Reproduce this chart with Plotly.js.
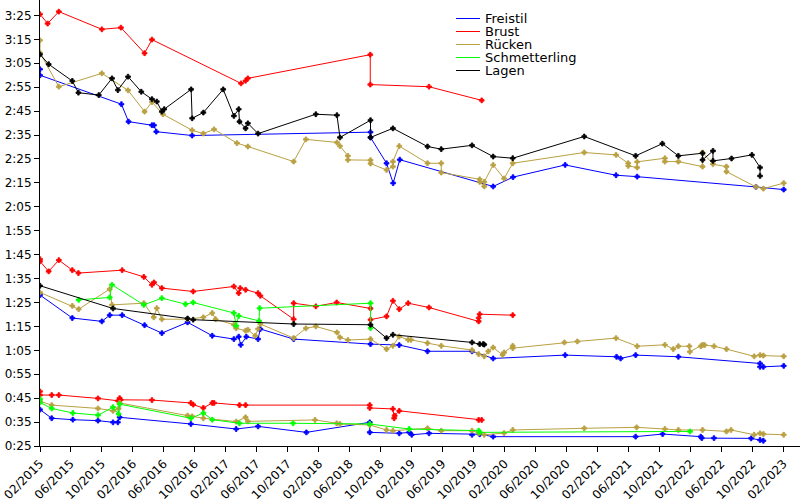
<!DOCTYPE html>
<html>
<head>
<meta charset="utf-8">
<script src="https://cdn.plot.ly/plotly-3.0.1.min.js"></script>
<style>html,body{margin:0;padding:0;background:#fff;}#chart{width:800px;height:500px;}</style>
</head>
<body>
<div id="chart"></div>
<script>
// ---------- DATA (times in seconds) ----------
const seriesNames = ['Freistil', 'Brust', 'Rücken', 'Schmetterling', 'Lagen'];
const seriesColors = ['#0000ff', '#ff0000', '#b9a040', '#00ff00', '#000000'];

const yTickValues = [25, 35, 45, 55, 65, 75, 85, 95, 105, 115, 125, 135, 145, 155, 165, 175, 185, 195, 205];
const yTickLabels = ['0:25', '0:35', '0:45', '0:55', '1:05', '1:15', '1:25', '1:35', '1:45', '1:55', '2:05', '2:15', '2:25', '2:35', '2:45', '2:55', '3:05', '3:15', '3:25'];

// Freistil
const freistil200Dates = ['2015-02-01','2015-02-01','2015-12-18','2016-01-15','2016-04-16','2016-04-24','2016-05-03','2016-09-21','2018-08-23','2018-08-23','2018-10-25','2018-11-20','2018-12-16','2019-12-18','2020-03-05','2020-09-26','2021-04-14','2021-07-06','2022-10-16','2023-02-02'];
const freistil200Times = [182.5,180.0,167.9,160.6,159.1,159.1,156.4,154.8,156.2,154.0,143.2,134.9,144.7,133.5,137.4,142.5,138.2,137.6,133.3,132.2];
const freistil100Dates = ['2015-02-01','2015-06-08','2015-10-02','2015-11-02','2015-12-21','2016-03-18','2016-05-25','2016-09-03','2016-12-09','2017-03-04','2017-03-23','2017-03-31','2017-04-22','2017-06-07','2017-06-16','2017-10-25','2018-08-23','2018-12-14','2019-04-04','2019-09-26','2019-12-18','2020-09-26','2021-04-16','2021-05-02','2021-06-30','2021-12-15','2022-11-01','2022-11-01','2022-11-14','2023-02-02'];
const freistil100Times = [88.1,78.5,77.1,79.7,79.7,75.5,72.2,76.7,71.1,69.7,70.7,67.3,70.7,69.7,73.9,69.7,67.6,67.2,64.6,64.6,61.6,63.0,62.3,61.6,63.0,62.3,59.5,58.1,58.1,58.5];
const freistil50Dates = ['2015-02-01','2015-03-19','2015-06-10','2015-09-17','2015-11-15','2015-12-04','2015-12-11','2016-09-16','2017-03-13','2017-06-07','2017-12-14','2018-08-20','2018-08-20','2018-12-14','2019-01-22','2019-02-01','2019-04-10','2019-09-26','2019-10-26','2019-12-18','2021-06-30','2021-10-14','2022-03-13','2022-03-17','2022-05-04','2022-09-27','2022-11-01','2022-11-14'];
const freistil50Times = [40.2,36.6,36.0,35.6,34.9,34.9,37.0,34.2,32.1,33.2,30.7,34.9,30.7,30.3,30.7,29.7,30.3,29.7,29.9,28.9,28.9,30.0,28.9,28.3,28.3,28.2,27.5,27.2];

// Brust
const brust200Dates = ['2015-02-01','2015-03-03','2015-04-16','2015-10-02','2015-12-16','2016-03-18','2016-04-16','2017-04-01','2017-04-19','2017-04-28','2018-08-22','2018-08-22','2019-04-10','2019-11-03'];
const brust200Times = [205.5,201.6,206.6,199.2,199.9,189.2,194.9,176.6,177.7,178.7,188.6,176.1,175.2,169.5];
const brust100Dates = ['2015-02-01','2015-02-01','2015-03-07','2015-04-16','2015-06-08','2015-07-02','2015-12-21','2016-03-15','2016-04-16','2016-04-24','2016-05-25','2016-09-25','2017-03-04','2017-03-23','2017-03-29','2017-04-19','2017-06-07','2017-06-16','2017-10-25','2017-10-25','2018-01-20','2018-04-12','2018-08-23','2018-08-23','2018-10-25','2018-11-19','2018-12-14','2019-01-18','2019-04-10','2019-10-22','2019-10-22','2019-10-26','2020-03-04'];
const brust100Times = [103.1,102.2,98.0,102.7,98.5,97.3,98.5,95.7,92.4,93.4,91.0,89.6,91.7,88.9,91.0,90.3,88.9,87.8,78.0,84.7,83.4,85.0,82.5,77.8,79.2,85.7,82.2,84.7,82.9,77.1,78.5,80.1,79.7];
const brust50Dates = ['2015-02-01','2015-02-01','2015-03-19','2015-04-16','2015-09-17','2015-12-04','2015-12-11','2015-12-15','2016-04-16','2016-09-16','2016-09-25','2016-11-04','2016-12-09','2016-12-16','2017-03-26','2017-04-19','2018-08-20','2018-08-20','2018-11-19','2018-11-24','2018-11-26','2018-12-14','2019-10-22','2019-11-03'];
const brust50Times = [47.8,46.3,46.3,46.3,44.9,43.9,45.0,44.3,44.2,43.0,42.3,40.9,43.0,43.0,42.1,42.1,42.1,40.9,40.5,36.6,37.7,39.7,35.9,35.9];

// Rücken
const ruecken200Dates = ['2015-02-01','2015-02-01','2015-04-16','2015-10-02','2016-01-13','2016-03-18','2016-04-16','2016-05-29','2016-09-21','2016-11-04','2016-12-16','2017-03-16','2017-04-28','2017-10-25','2017-12-12','2018-04-13','2018-04-25','2018-05-26','2018-05-26','2018-08-23','2018-08-23','2018-10-25','2018-11-19','2018-11-19','2018-12-14','2019-04-04','2019-05-28','2019-05-28','2019-10-26','2019-10-26','2019-11-13','2019-11-13','2019-12-18','2020-01-30','2020-03-04','2020-12-10','2021-04-14','2021-06-01','2021-06-01','2021-07-06','2021-07-06','2021-10-23','2021-10-23','2021-12-15','2022-03-20','2022-03-20','2022-04-30','2022-06-22','2022-06-22','2022-10-16','2022-11-14','2023-02-02'];
const ruecken200Times = [194.6,189.4,175.2,180.8,173.7,164.8,168.8,163.7,157.0,155.6,157.4,151.6,150.2,143.9,153.2,151.9,150.4,146.3,144.6,144.5,143.1,140.4,141.8,143.9,150.4,143.2,143.2,139.3,136.5,135.4,133.5,135.4,142.5,136.8,143.2,147.7,146.7,143.2,142.1,141.4,143.8,145.3,143.9,143.9,141.8,147.7,142.8,141.8,139.7,133.3,132.6,134.9];
const ruecken100Dates = ['2015-02-01','2015-06-08','2015-07-03','2015-11-02','2015-11-11','2016-03-15','2016-04-23','2016-05-05','2016-05-25','2016-09-03','2016-11-04','2016-12-09','2016-12-22','2017-03-04','2017-03-13','2017-04-19','2017-04-28','2017-05-27','2017-06-07','2017-06-16','2017-10-25','2017-12-12','2018-01-20','2018-04-13','2018-04-25','2018-05-26','2018-08-23','2018-10-25','2018-11-19','2018-12-14','2019-01-18','2019-01-29','2019-04-04','2019-05-28','2019-09-26','2019-10-22','2019-11-13','2019-11-29','2019-12-18','2020-01-24','2020-01-30','2020-03-04','2020-03-04','2020-09-23','2020-11-13','2021-04-14','2021-07-06','2021-10-23','2021-11-25','2021-12-15','2022-01-27','2022-01-29','2022-03-13','2022-03-20','2022-03-28','2022-05-04','2022-06-22','2022-10-09','2022-11-01','2022-11-14','2023-02-02'];
const ruecken100Times = [89.2,83.6,82.2,90.6,84.0,84.7,78.8,82.6,78.0,78.0,78.8,80.6,78.0,75.7,74.2,73.2,73.6,71.1,73.9,76.0,70.1,74.2,75.0,72.5,70.4,69.3,69.7,65.5,66.9,70.8,69.4,69.4,68.0,66.9,65.1,63.4,62.5,64.6,66.2,63.1,64.1,66.9,65.9,68.3,68.7,70.1,66.7,67.3,65.5,66.7,66.7,64.4,66.7,67.3,67.2,66.7,65.5,62.5,63.0,62.8,62.5];
const ruecken50Dates = ['2015-02-01','2015-03-19','2015-09-17','2015-11-15','2015-12-07','2015-12-11','2016-09-03','2016-09-21','2016-11-04','2017-03-13','2017-04-19','2017-04-28','2018-01-17','2018-04-12','2018-04-25','2018-08-20','2018-10-25','2018-11-19','2019-04-04','2019-05-28','2019-09-26','2019-10-22','2019-11-13','2020-01-30','2020-03-04','2020-12-10','2021-07-04','2021-10-23','2021-12-15','2022-03-20','2022-06-22','2022-07-10','2022-10-09','2022-11-01','2022-11-14','2023-02-02'];
const ruecken50Times = [43.7,42.1,40.7,39.7,40.7,43.0,37.7,37.4,36.6,35.2,37.0,35.3,35.9,34.5,34.2,33.8,31.7,31.4,32.4,31.4,31.4,30.4,29.7,30.4,31.7,32.4,32.8,32.1,31.7,31.7,31.1,31.7,29.7,30.3,30.0,29.7];

// Schmetterling
const schmetterling100Dates = ['2015-07-03','2015-11-02','2015-11-11','2016-03-15','2016-05-25','2016-08-26','2016-09-25','2017-03-04','2017-03-13','2017-03-23','2017-06-11','2017-06-13','2018-08-23','2018-08-23'];
const schmetterling100Times = [86.1,87.1,92.4,84.0,86.8,84.3,85.0,80.6,75.3,79.4,77.3,82.6,84.7,74.3];
const schmetterling50Dates = ['2015-02-01','2015-02-01','2015-03-19','2015-06-10','2015-09-17','2015-11-15','2015-12-07','2015-12-11','2016-09-16','2016-11-04','2016-12-09','2017-03-26','2017-10-23','2018-08-20','2019-01-22','2019-10-22','2019-10-26','2022-01-30'];
const schmetterling50Times = [44.6,43.2,40.7,38.8,37.9,41.2,38.4,42.5,36.6,38.8,36.0,34.5,34.5,34.2,32.1,31.4,30.7,31.1];

// Lagen
const lagen200Dates = ['2015-02-01','2015-03-07','2015-06-08','2015-07-02','2015-09-20','2015-11-11','2015-12-04','2016-01-13','2016-03-05','2016-04-16','2016-05-05','2016-05-25','2016-06-03','2016-09-17','2016-09-21','2016-11-04','2017-01-21','2017-03-04','2017-03-23','2017-03-26','2017-04-19','2017-04-28','2017-06-07','2018-01-20','2018-04-13','2018-04-25','2018-08-23','2018-08-23','2018-11-19','2019-04-04','2019-05-28','2019-09-26','2019-12-18','2020-03-04','2020-12-10','2021-06-30','2021-10-13','2021-12-15','2022-03-20','2022-03-20','2022-04-30','2022-04-30','2022-07-12','2022-09-30','2022-11-01','2022-11-01'];
const lagen200Times = [188.7,184.6,177.6,172.7,171.7,178.7,173.8,179.4,173.1,170.0,169.0,164.8,165.8,174.1,162.0,164.4,174.1,163.0,165.8,160.6,157.8,159.9,155.6,163.7,163.3,154.0,161.2,154.0,157.8,150.2,149.1,150.7,146.0,145.3,154.4,146.3,151.4,146.3,147.4,144.6,148.4,144.2,145.2,146.7,141.4,137.9];
const lagen100Dates = ['2015-02-01','2015-11-15','2016-09-03','2016-09-25','2017-10-25','2018-08-23','2018-10-25','2018-11-19','2019-09-26','2019-10-26','2019-11-09','2019-11-13'];
const lagen100Times = [92.0,82.5,78.3,77.8,76.0,75.7,70.1,71.5,68.3,67.6,67.6,67.4];

const seriesGroups = [
  [[freistil200Dates, freistil200Times], [freistil100Dates, freistil100Times], [freistil50Dates, freistil50Times]],
  [[brust200Dates, brust200Times], [brust100Dates, brust100Times], [brust50Dates, brust50Times]],
  [[ruecken200Dates, ruecken200Times], [ruecken100Dates, ruecken100Times], [ruecken50Dates, ruecken50Times]],
  [[schmetterling100Dates, schmetterling100Times], [schmetterling50Dates, schmetterling50Times]],
  [[lagen200Dates, lagen200Times], [lagen100Dates, lagen100Times]]
];

// ---------- CHART ----------
const W = 800, H = 500, ML = 40, MR = 0, MT = 0, MB = 54;
const plotW = W - ML - MR, plotH = H - MT - MB;
const pxX = px => (px - ML) / plotW;
const pxY = py => 1 - (py - MT) / plotH;

const traces = [];
seriesGroups.forEach((groups, si) => {
  groups.forEach(([d, t]) => {
    traces.push({
      type: 'scatter', mode: 'lines+markers', x: d, y: t,
      name: seriesNames[si], showlegend: false, hoverinfo: 'skip',
      line: {color: seriesColors[si], width: 1},
      marker: {color: seriesColors[si], symbol: 'cross', size: 4, line: {width: 0.8, color: seriesColors[si]}}
    });
  });
});

const font = {family: 'DejaVu Sans, sans-serif', size: 12, color: '#000'};
const xRange = ['2015-02-01', '2023-04-07'];
const yRange = [25, 25 + plotH / 2.392];

const shapes = [], annotations = [];
const legendRows = [18.5, 31.5, 44.5, 57.5, 70.5];
seriesNames.forEach((n, i) => {
  shapes.push({type: 'line', xref: 'paper', yref: 'paper', x0: pxX(456), x1: pxX(480),
    y0: pxY(legendRows[i]), y1: pxY(legendRows[i]), line: {color: seriesColors[i], width: 1}});
  annotations.push({xref: 'paper', yref: 'paper', x: pxX(484), y: pxY(legendRows[i]),
    xanchor: 'left', yanchor: 'middle', showarrow: false, text: n, borderpad: 0,
    font: {family: 'DejaVu Sans, sans-serif', size: 13, color: '#000'}});
});

const layout = {
  width: W, height: H,
  margin: {l: ML, r: MR, t: MT, b: MB, pad: 0},
  paper_bgcolor: '#fff', plot_bgcolor: '#fff',
  showlegend: false, font: font,
  xaxis: {type: 'date', range: xRange, tick0: '2015-02-01', dtick: 'M4', tickformat: '%m/%Y',
    tickangle: -45, ticks: 'outside', ticklen: 5, tickcolor: '#000', tickwidth: 1,
    showline: true, linecolor: '#000', linewidth: 1, showgrid: false, zeroline: false,
    tickfont: font, fixedrange: true},
  xaxis2: {type: 'date', overlaying: 'x', anchor: 'y', side: 'bottom', range: xRange, tick0: '2015-02-01', dtick: 'M4',
    ticks: 'inside', ticklen: 5, tickcolor: '#000', tickwidth: 1, showticklabels: false,
    showline: false, showgrid: false, zeroline: false},
  yaxis: {range: yRange, tickvals: yTickValues, ticktext: yTickLabels,
    ticks: 'outside', ticklen: 5, tickcolor: '#000', tickwidth: 1,
    showline: true, linecolor: '#000', linewidth: 1, showgrid: false, zeroline: false,
    tickfont: font, fixedrange: true},
  yaxis2: {overlaying: 'y', anchor: 'x', side: 'left', range: yRange, tickvals: yTickValues,
    ticks: 'inside', ticklen: 5, tickcolor: '#000', tickwidth: 1, showticklabels: false,
    showline: false, showgrid: false, zeroline: false},
  shapes: shapes, annotations: annotations
};

Plotly.newPlot('chart', traces, layout, {staticPlot: true, displayModeBar: false});
</script>
</body>
</html>
